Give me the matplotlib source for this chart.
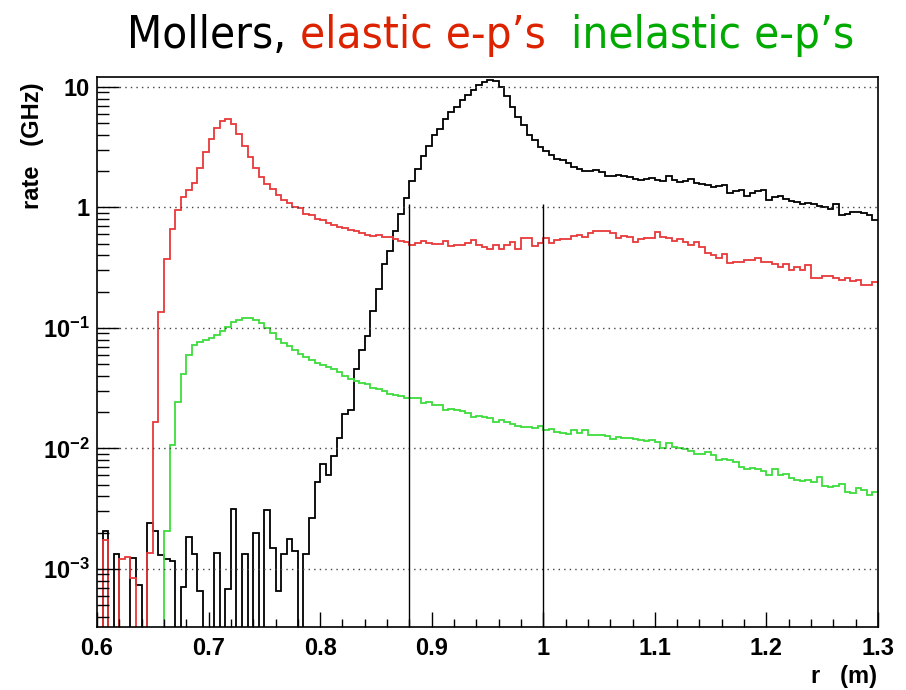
import matplotlib
matplotlib.use("Agg")
import matplotlib.pyplot as plt
import numpy as np
from matplotlib.ticker import FixedLocator, FixedFormatter

# histogram binning: 140 bins of 5 mm between r = 0.6 and 1.3 m
r_lo, r_hi, n_bins = 0.6, 1.3, 140
edges = np.linspace(r_lo, r_hi, n_bins + 1)

# Moller rate per bin (GHz)
mollers = [
    0, 2.08e-3, 0, 1.32e-3, 0, 0, 1.24e-3, 7.4e-4, 0, 2.4e-3,
    2.05e-3, 1.3e-3, 1.2e-3, 1.17e-3, 0, 7.1e-4, 1.86e-3, 1.32e-3, 6.6e-4, 0,
    0, 1.36e-3, 0, 6.8e-4, 3.15e-3, 0, 1.32e-3, 0, 2.0e-3, 0,
    3.1e-3, 1.5e-3, 6.6e-4, 1.32e-3, 1.78e-3, 1.41e-3, 0, 1.32e-3, 2.65e-3, 5.3e-3,
    7.5e-3, 6.0e-3, 8.6e-3, 0.0122, 0.0195, 0.0207, 0.0457, 0.0662, 0.085, 0.139,
    0.209, 0.342, 0.433, 0.636, 0.89, 1.21, 1.66, 2.10, 2.66, 3.22,
    3.99, 4.51, 5.45, 6.19, 6.85, 7.84, 8.56, 9.48, 10.3, 11.0,
    11.5, 11.3, 10.0, 8.45, 6.85, 5.6, 4.85, 4.0, 3.6, 3.16,
    2.95, 2.70, 2.54, 2.46, 2.33, 2.17, 2.07, 2.0, 1.99, 2.03,
    1.97, 1.82, 1.81, 1.85, 1.82, 1.79, 1.73, 1.68, 1.73, 1.77,
    1.70, 1.65, 1.81, 1.68, 1.63, 1.65, 1.71, 1.61, 1.58, 1.53,
    1.48, 1.50, 1.55, 1.32, 1.36, 1.39, 1.25, 1.33, 1.36, 1.39,
    1.15, 1.22, 1.25, 1.17, 1.13, 1.10, 1.06, 1.08, 1.06, 1.03,
    1.01, 0.97, 1.06, 0.865, 0.875, 0.91, 0.92, 0.90, 0.865, 0.787,
]

# elastic e-p rate per bin (GHz)
elastic = [
    0, 1.75e-3, 0, 0, 1.22e-3, 1.25e-3, 8.4e-4, 0, 0, 1.35e-3,
    0.0166, 0.136, 0.377, 0.669, 0.95, 1.23, 1.39, 1.60, 2.11, 2.86,
    3.72, 4.54, 5.19, 5.42, 4.93, 4.07, 3.23, 2.60, 2.11, 1.80,
    1.56, 1.41, 1.27, 1.16, 1.08, 1.0, 0.99, 0.89, 0.87, 0.81,
    0.79, 0.74, 0.72, 0.69, 0.67, 0.65, 0.64, 0.615, 0.586, 0.575,
    0.586, 0.567, 0.567, 0.548, 0.53, 0.52, 0.49, 0.51, 0.526, 0.51,
    0.50, 0.50, 0.53, 0.48, 0.49, 0.49, 0.505, 0.536, 0.49, 0.47,
    0.454, 0.49, 0.454, 0.49, 0.516, 0.454, 0.56, 0.555, 0.483, 0.51,
    0.555, 0.505, 0.538, 0.545, 0.545, 0.584, 0.59, 0.573, 0.61, 0.638,
    0.638, 0.638, 0.61, 0.555, 0.584, 0.573, 0.52, 0.548, 0.555, 0.555,
    0.63, 0.573, 0.555, 0.53, 0.548, 0.52, 0.49, 0.52, 0.474, 0.418,
    0.405, 0.38, 0.41, 0.345, 0.356, 0.356, 0.368, 0.368, 0.38, 0.352,
    0.352, 0.341, 0.318, 0.339, 0.305, 0.32, 0.30, 0.33, 0.26, 0.26,
    0.27, 0.27, 0.26, 0.249, 0.26, 0.244, 0.249, 0.229, 0.226, 0.24,
]

# inelastic e-p rate per bin (GHz)
inelastic = [
    0, 0, 0, 0, 0, 0, 0, 0, 0, 0,
    0, 0, 2.06e-3, 0.0107, 0.0245, 0.0415, 0.060, 0.072, 0.0765, 0.079,
    0.083, 0.088, 0.094, 0.102, 0.112, 0.116, 0.12, 0.122, 0.117, 0.11,
    0.10, 0.091, 0.0815, 0.075, 0.0704, 0.066, 0.061, 0.057, 0.054, 0.051,
    0.049, 0.047, 0.0455, 0.043, 0.040, 0.038, 0.036, 0.035, 0.034, 0.032,
    0.031, 0.030, 0.0285, 0.028, 0.027, 0.0262, 0.026, 0.026, 0.024, 0.0245,
    0.023, 0.0228, 0.021, 0.0212, 0.0207, 0.0204, 0.0198, 0.0184, 0.0185, 0.0183,
    0.0179, 0.0166, 0.0172, 0.0166, 0.0161, 0.0153, 0.015, 0.015, 0.0148, 0.0154,
    0.0142, 0.0144, 0.0136, 0.0134, 0.0132, 0.0141, 0.0134, 0.0141, 0.013, 0.0129,
    0.013, 0.0126, 0.012, 0.0124, 0.0123, 0.0123, 0.0121, 0.0118, 0.0115, 0.0117,
    0.0113, 0.0101, 0.0111, 0.0102, 0.0101, 0.00986, 0.00953, 0.00902, 0.009, 0.0094,
    0.00878, 0.0080, 0.0082, 0.0080, 0.00765, 0.0070, 0.00676, 0.0069, 0.00676, 0.00653,
    0.00597, 0.0067, 0.0060, 0.0061, 0.00569, 0.0055, 0.00539, 0.0055, 0.00531, 0.00577,
    0.00486, 0.0048, 0.00486, 0.00503, 0.00438, 0.00424, 0.00473, 0.00454, 0.00412, 0.00432,
]

# detector ring edges (m) and the height the markers are drawn to (GHz)
cut_r = [0.88, 1.0]
cut_top = 1.07

x_ticks = [0.6, 0.7, 0.8, 0.9, 1.0, 1.1, 1.2, 1.3]
x_tick_labels = ["0.6", "0.7", "0.8", "0.9", "1", "1.1", "1.2", "1.3"]
y_ticks = [1e-3, 1e-2, 1e-1, 1, 10]
y_tick_labels = [r"$10^{-3}$", r"$10^{-2}$", r"$10^{-1}$", "1", "10"]

title_parts = ["Mollers, ", "elastic e-p\u2019s", "  inelastic e-p\u2019s"]
title_colors = ["black", "#dd2200", "#00aa00"]

plt.rcParams["font.family"] = ["Liberation Sans", "DejaVu Sans"]
plt.rcParams["mathtext.fontset"] = "custom"
plt.rcParams["mathtext.rm"] = "Liberation Sans:bold"
plt.rcParams["mathtext.it"] = "Liberation Sans:bold"
plt.rcParams["mathtext.bf"] = "Liberation Sans:bold"
plt.rcParams["mathtext.default"] = "rm"

W, H = 906, 690
fig = plt.figure(figsize=(W / 100, H / 100), dpi=100)
ax = fig.add_axes([97 / W, 63 / H, 781 / W, 550 / H])


def floor(v):
    # empty bins go below the visible range, like ROOT does
    v = np.asarray(v, dtype=float)
    return np.where(v > 0, v, 1e-9)


ax.stairs(floor(mollers), edges, color="black", lw=1.3, baseline=None)
ax.stairs(floor(elastic), edges, color="#e8383a", lw=1.3, baseline=None)
ax.stairs(floor(inelastic), edges, color="#3ddc3d", lw=1.3, baseline=None)
ax.vlines(cut_r, 1e-9, cut_top, color="black", lw=1.0)

ax.set_yscale("log")
ax.set_xlim(r_lo, r_hi)
ax.set_ylim(3.3e-4, 12.1)

ax.xaxis.set_major_locator(FixedLocator(x_ticks))
ax.xaxis.set_major_formatter(FixedFormatter(x_tick_labels))
ax.set_xticks(np.arange(0.6, 1.3001, 0.02), minor=True)
ax.yaxis.set_major_locator(FixedLocator(y_ticks))
ax.yaxis.set_major_formatter(FixedFormatter(y_tick_labels))
ax.yaxis.set_minor_locator(matplotlib.ticker.LogLocator(base=10, subs=np.arange(2, 10)))
ax.yaxis.set_minor_formatter(matplotlib.ticker.NullFormatter())

ax.tick_params(axis="both", which="both", direction="in", top=False, right=False, width=1.0)
ax.tick_params(axis="x", which="major", length=11, pad=7, labelsize=17)
ax.tick_params(axis="x", which="minor", length=6)
ax.tick_params(axis="y", which="major", length=16, pad=5, labelsize=17)
ax.tick_params(axis="y", which="minor", length=8.5)
for lab in ax.get_xticklabels() + ax.get_yticklabels():
    lab.set_fontweight("bold")

ax.yaxis.grid(True, which="major", linestyle=(0, (1, 3)), color="#444444", lw=1.0)
for s in ax.spines.values():
    s.set_linewidth(1.2)

fig.text(32 / W, 1 - 146 / H, "rate   (GHz)", rotation=90, ha="center", va="center",
         fontsize=17, fontweight="bold")
fig.text(877 / W, 1 - 677 / H, "r   (m)", ha="right", va="center",
         fontsize=17, fontweight="bold")

# multi-coloured title, pieces placed one after another
size = 33
texts = [fig.text(0, 1 - 48 / H, t, color=c, fontsize=size, family="DejaVu Sans",
                  stretch="condensed", ha="left", va="baseline")
         for t, c in zip(title_parts, title_colors)]
renderer = fig.canvas.get_renderer()
widths = [t.get_window_extent(renderer).width for t in texts]
scale = min(1.0, 728 / sum(widths))
for t in texts:
    t.set_fontsize(size * scale)
widths = [t.get_window_extent(renderer).width for t in texts]
x0 = 491 - sum(widths) / 2
for t, w in zip(texts, widths):
    t.set_x(x0 / W)
    x0 += w

fig.savefig("out.png", dpi=100)
